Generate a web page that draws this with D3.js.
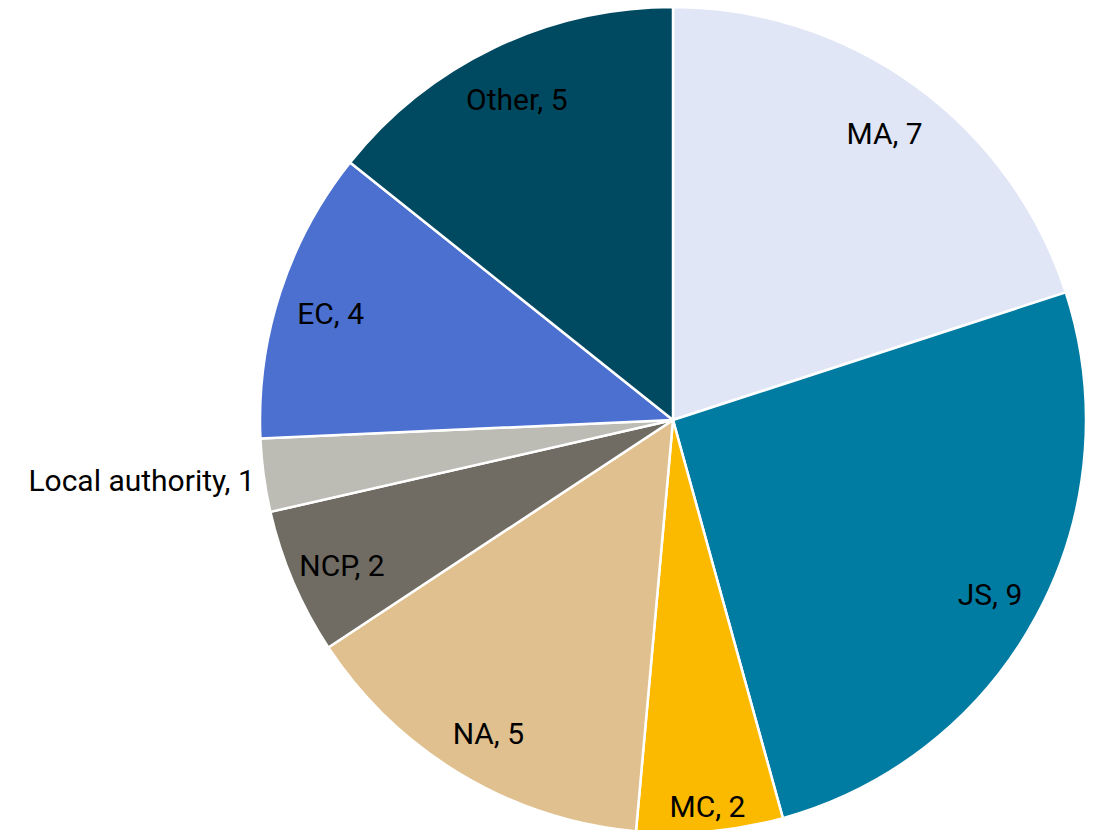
<!DOCTYPE html>
<html>
<head>
<meta charset="utf-8">
<script src="https://cdn.jsdelivr.net/npm/d3@7.9.0/dist/d3.min.js"></script>
<style>
  html, body { margin: 0; padding: 0; background: #fff; }
  svg { display: block; }
  text { font-family: Roboto, "Liberation Sans", Arial, sans-serif; font-size: 30px; fill: #000; }
</style>
</head>
<body>
<svg id="chart" width="1097" height="830"></svg>
<script>
// data
const labels = ['MA', 'JS', 'MC', 'NA', 'NCP', 'Local authority', 'EC', 'Other'];
const values = [7, 9, 2, 5, 2, 1, 4, 5];
const colors = ['#e1e6f6', '#007ba2', '#fbb900', '#e0c08f', '#706c63', '#bcbbb4', '#4b70d0', '#004a61'];

const width = 1097, height = 830;
const cx = 673, cy = 420, radius = 413;

const data = labels.map((label, i) => ({ label, value: values[i] }));

const svg = d3.select('#chart');
const g = svg.append('g').attr('transform', `translate(${cx},${cy})`);

const pie = d3.pie().value(d => d.value).sort(null);
const arc = d3.arc().innerRadius(0).outerRadius(radius);
const arcs = pie(data);

// slices
g.selectAll('path')
  .data(arcs)
  .join('path')
  .attr('d', arc)
  .attr('fill', (d, i) => colors[i])
  .attr('stroke', '#fff')
  .attr('stroke-width', 2.5)
  .attr('stroke-linejoin', 'round');

// labels - small slices get pushed further out, the tiniest sits outside
function labelRadius(d) {
  if (d.data.label === 'Local authority') return radius + 9;
  if (d.data.label === 'MC') return 384;
  return 360;
}

g.selectAll('text')
  .data(arcs)
  .join('text')
  .attr('transform', d => {
    const r = labelRadius(d);
    const c = d3.arc().innerRadius(r).outerRadius(r).centroid(d);
    return `translate(${c[0]},${c[1] + 4})`;
  })
  .attr('text-anchor', d => d.data.label === 'Local authority' ? 'end' : 'middle')
  .attr('dy', '0.36em')
  .text(d => `${d.data.label}, ${d.data.value}`);
</script>
</body>
</html>
